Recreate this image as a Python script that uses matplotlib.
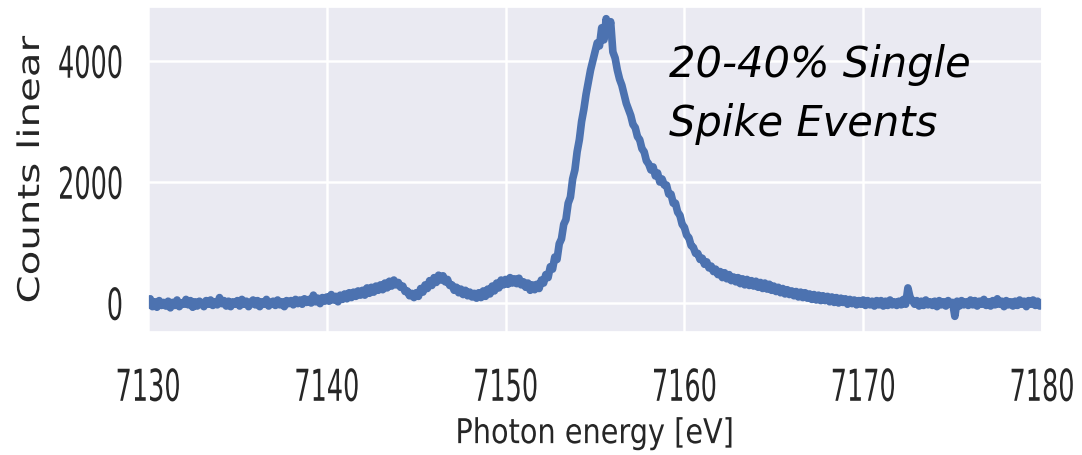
import numpy as np
import matplotlib
matplotlib.use("Agg")
import matplotlib.pyplot as plt
import seaborn as sns
from matplotlib.patheffects import AbstractPathEffect
from matplotlib.transforms import Affine2D

# photon energy grid (eV), counts read every 0.125 eV
e_start, e_stop, e_step = 7130.0, 7180.0, 0.125
counts = [
    -30, 70, -60, 20, -70, 40, -40, 10,              # 7130
    -50, 30, -80, 10, -40, 50, -60, 0,               # 7131
    -20, 60, -30, 40, -70, 20, -50, 30,              # 7132
    0, -60, 40, -20, 50, -40, 20, -30,               # 7133
    90, -10, 40, -50, 30, -60, 20, -20,              # 7134
    40, -50, 60, -20, 30, -60, 10, 50,               # 7135
    -30, 40, -60, 20, -20, 60, -50, 10,              # 7136
    30, -40, 50, -30, 20, -60, 40, -10,              # 7137
    40, -30, 60, -10, 50, -20, 70, 10,               # 7138
    60, 0, 130, 20, 80, -10, 90, 30,                 # 7139
    100, 30, 140, 50, 110, 20, 130, 60,              # 7140
    150, 70, 170, 90, 180, 110, 200, 130,            # 7141
    210, 130, 250, 160, 260, 180, 280, 210,          # 7142
    300, 220, 330, 250, 360, 280, 380, 300,          # 7143
    340, 260, 280, 190, 200, 120, 160, 90,           # 7144
    170, 110, 240, 180, 300, 240, 370, 290,          # 7145
    420, 340, 460, 380, 450, 350, 390, 290,          # 7146
    300, 210, 260, 170, 230, 140, 210, 120,          # 7147
    180, 100, 160, 80, 170, 90, 200, 110,            # 7148
    230, 150, 280, 200, 330, 250, 380, 300,          # 7149
    390, 310, 420, 330, 400, 320, 410, 300,          # 7150
    350, 260, 330, 210, 300, 220, 310, 240,          # 7151
    380, 330, 470, 420, 600, 560, 760, 720,          # 7152
    980, 1060, 1300, 1380, 1650, 1750, 2050, 2200,   # 7153
    2500, 2700, 3000, 3200, 3450, 3650, 3850, 4000,  # 7154
    4150, 4300, 4250, 4550, 4350, 4700, 4450, 4650,  # 7155
    4150, 4050, 3850, 3700, 3600, 3450, 3300, 3200,  # 7156
    3100, 2950, 2900, 2750, 2700, 2550, 2500, 2350,  # 7157
    2300, 2200, 2250, 2100, 2150, 2000, 2050, 1950,  # 7158
    1950, 1800, 1800, 1650, 1650, 1500, 1450, 1300,  # 7159
    1250, 1120, 1080, 950, 920, 820, 820, 720,       # 7160
    740, 640, 680, 580, 610, 520, 560, 470,          # 7161
    520, 420, 500, 400, 470, 370, 430, 350,          # 7162
    420, 320, 400, 300, 390, 290, 370, 280,          # 7163
    360, 260, 340, 240, 330, 230, 310, 210,          # 7164
    280, 190, 260, 170, 240, 150, 220, 140,          # 7165
    200, 120, 190, 100, 180, 90, 170, 80,            # 7166
    150, 60, 140, 50, 130, 40, 120, 40,              # 7167
    110, 20, 100, 10, 90, 0, 80, 10,                 # 7168
    70, -20, 60, -10, 50, -30, 40, -20,              # 7169
    50, -40, 40, -30, 30, -50, 40, -30,              # 7170
    40, -50, 30, -40, 50, -30, 20, -40,              # 7171
    30, -30, 60, -20, 250, 90, 40, -20,              # 7172
    40, -50, 30, -40, 50, -30, 20, -40,              # 7173
    30, -60, 40, -30, 20, -50, 40, -20,              # 7174
    10, -220, 30, -50, 40, -30, 20, -40,             # 7175
    50, -30, 40, -50, 30, -20, 60, -40,              # 7176
    20, -50, 40, -30, 70, -20, 30, -60,              # 7177
    40, -30, 20, -50, 30, -40, 50, -20,              # 7178
    30, -60, 40, -20, 50, -40, 30, -50,              # 7179
    10,                                              # 7180
]
energy = np.arange(e_start, e_stop + e_step / 2, e_step)

xticks = [7130, 7140, 7150, 7160, 7170, 7180]
yticks = [0, 2000, 4000]
note_lines = ["20-40% Single", "Spike Events"]


class Stretch(AbstractPathEffect):
    """Draw text taller in screen y, pinned at its top, bottom or centre."""

    def __init__(self, sy, anchor="center"):
        super().__init__()
        self.sy = sy
        self.anchor = anchor

    def draw_path(self, renderer, gc, tpath, affine, rgbFace=None):
        ext = tpath.get_extents(affine)
        y0 = {"bottom": ext.y0, "top": ext.y1,
              "center": 0.5 * (ext.y0 + ext.y1)}[self.anchor]
        tr = affine + Affine2D().translate(0, -y0).scale(1, self.sy).translate(0, y0)
        renderer.draw_path(gc, tpath, tr, rgbFace)


sns.set_theme(style="darkgrid")
plt.rcParams["font.family"] = ["DejaVu Sans"]

fig = plt.figure(figsize=(10.82, 4.55), dpi=100)
ax = fig.add_axes([148 / 1082, 123 / 455, 894 / 1082, 325 / 455])

ax.plot(energy, counts, color="#4C72B0", lw=5.5)

ax.set_xlim(7130, 7180)
ax.set_ylim(-479, 4893)
ax.set_xticks(xticks)
ax.set_yticks(yticks)
ax.grid(True, color="white", lw=1.8)
ax.tick_params(axis="x", length=0, pad=25.3, labelsize=18.4, labelcolor=".15")
ax.tick_params(axis="y", length=0, pad=18, labelsize=18.4, labelcolor=".15")

for lab in ax.get_xticklabels():
    lab.set_path_effects([Stretch(1.72, "top")])
for lab in ax.get_yticklabels():
    lab.set_path_effects([Stretch(1.72, "center")])

ax.set_xlabel("Photon energy [eV]", fontsize=20.7, color=".15",
              path_effects=[Stretch(1.19, "top")])
ax.xaxis.set_label_coords(0.5, -0.2615)
ax.set_ylabel("Counts linear", fontsize=21.5, color=".15",
              path_effects=[Stretch(1.35, "center")])
ax.yaxis.set_label_coords(-0.1152, 0.5)

fig.text(669 / 1082, 1 - 77 / 455, note_lines[0], fontsize=30,
         style="italic", color="black", va="baseline")
fig.text(669 / 1082, 1 - 136 / 455, note_lines[1], fontsize=30,
         style="italic", color="black", va="baseline")

fig.savefig("out.png", dpi=100)
